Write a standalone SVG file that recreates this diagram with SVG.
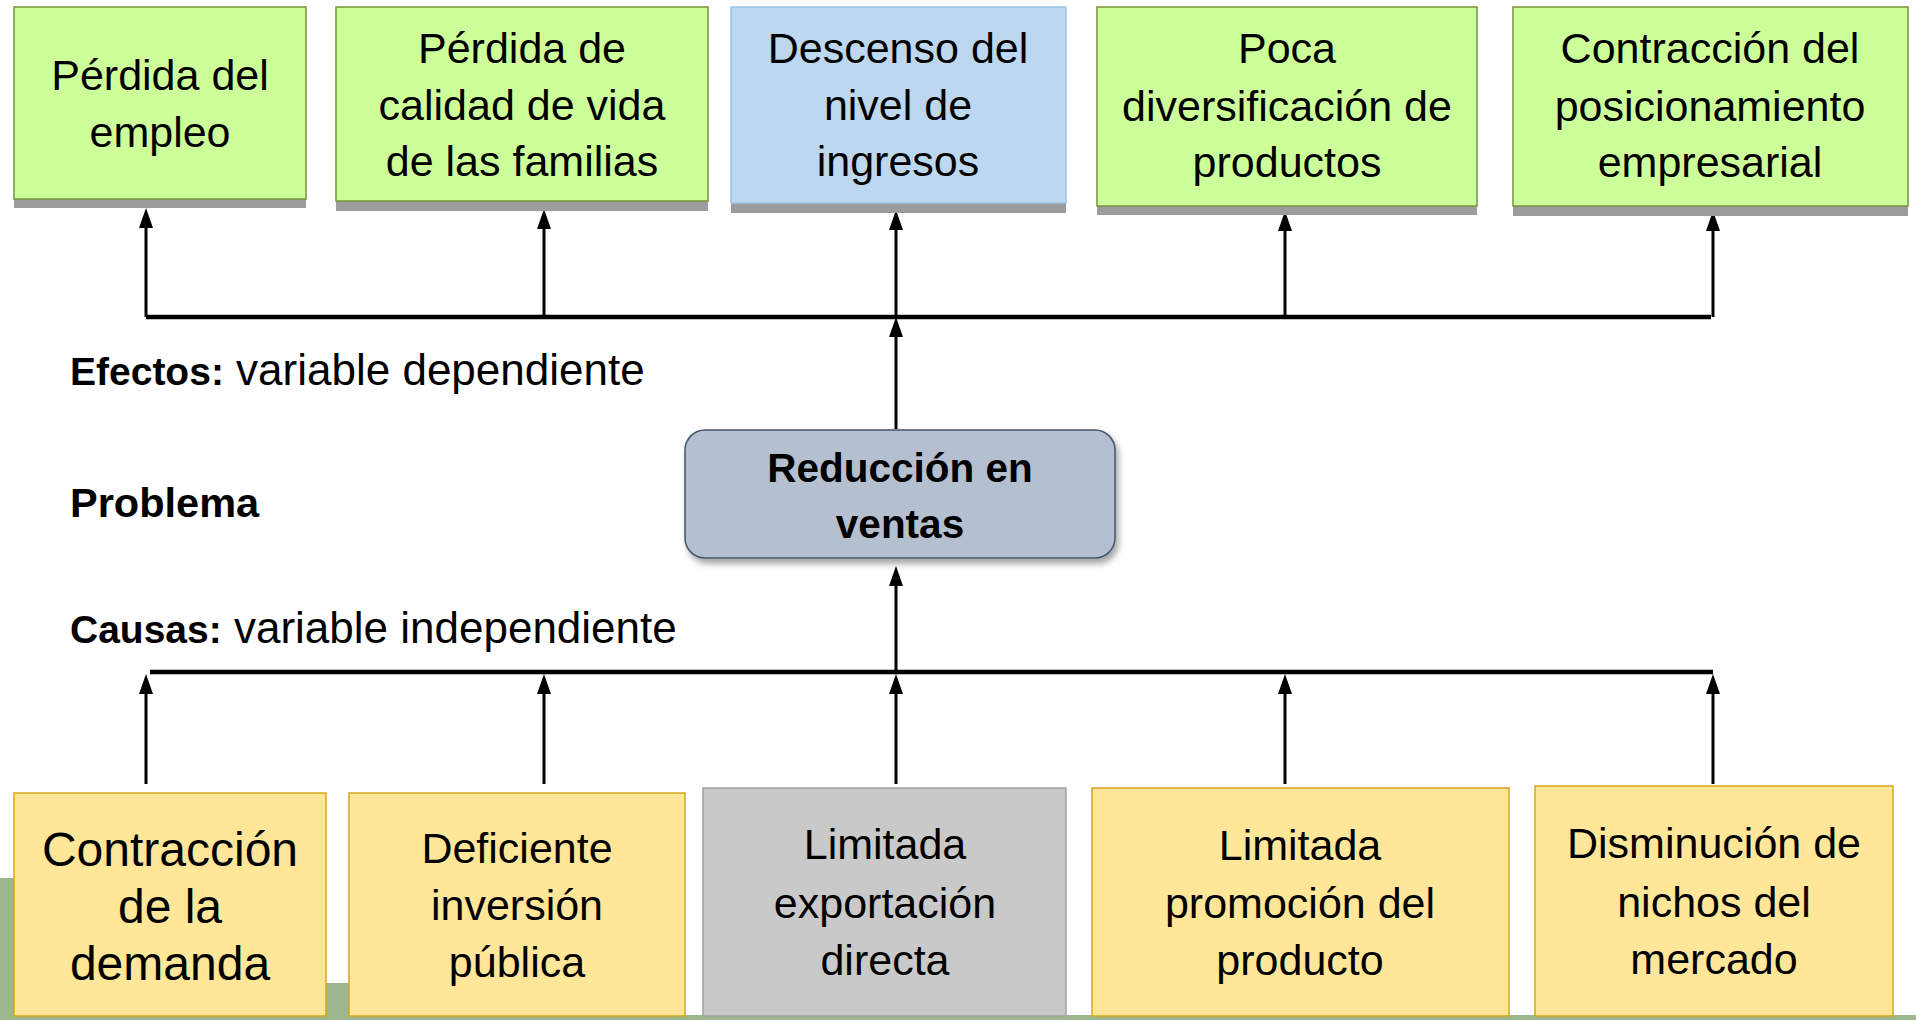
<svg xmlns="http://www.w3.org/2000/svg" width="1916" height="1020" viewBox="0 0 1916 1020">
<style>
.t{font-family:"Liberation Sans",Arial,sans-serif;font-size:43px;fill:#000;text-anchor:middle}
.lab{font-family:"Liberation Sans",Arial,sans-serif;font-size:44px;fill:#000}
.b{font-weight:bold}
.eff{fill:#CCFF99;stroke:#77933C;stroke-width:1.5}
.effb{fill:#BDD7EE;stroke:#9DC3E6;stroke-width:1.5}
.shd{fill:#9C9C9C}
.cau{fill:#FFE699;stroke:#D6A520;stroke-width:1.5}
.cag{fill:#C9C9C9;stroke:#A0A0A0;stroke-width:1.5}
.ln{stroke:#000;stroke-width:3;fill:none}
.hl{stroke:#000;stroke-width:4.5;fill:none}
.bg{fill:#9CB78C}
</style>
<defs>
<marker id="ah" markerUnits="userSpaceOnUse" markerWidth="20" markerHeight="14" viewBox="0 0 20 14" refX="12" refY="7" orient="auto">
<path d="M0,0 L20,7 L0,14 z" fill="#000"/>
</marker>
<filter id="ds" x="-10%" y="-10%" width="125%" height="140%">
<feDropShadow dx="3" dy="5" stdDeviation="3" flood-color="#000" flood-opacity="0.35"/>
</filter>
</defs>
<rect width="1916" height="1020" fill="#fff"/>
<g id="background">
<rect class="bg" x="0" y="878" width="14" height="142"/>
<rect class="bg" x="326" y="983" width="24" height="37"/>
<rect class="bg" x="0" y="1015" width="1916" height="5"/>
</g>
<g id="connectors">
<line class="hl" x1="146" y1="317" x2="1711" y2="317"/>
<line class="ln" x1="146" y1="317" x2="146" y2="216" marker-end="url(#ah)"/>
<line class="ln" x1="544" y1="317" x2="544" y2="217" marker-end="url(#ah)"/>
<line class="ln" x1="896" y1="317" x2="896" y2="218" marker-end="url(#ah)"/>
<line class="ln" x1="1285" y1="317" x2="1285" y2="219" marker-end="url(#ah)"/>
<line class="ln" x1="1713" y1="317" x2="1713" y2="219" marker-end="url(#ah)"/>
<line class="ln" x1="896" y1="429" x2="896" y2="325" marker-end="url(#ah)"/>
<line class="hl" x1="150" y1="672" x2="1713" y2="672"/>
<line class="ln" x1="896" y1="672" x2="896" y2="574" marker-end="url(#ah)"/>
<line class="ln" x1="146" y1="784" x2="146" y2="682" marker-end="url(#ah)"/>
<line class="ln" x1="544" y1="784" x2="544" y2="682" marker-end="url(#ah)"/>
<line class="ln" x1="896" y1="784" x2="896" y2="682" marker-end="url(#ah)"/>
<line class="ln" x1="1285" y1="784" x2="1285" y2="682" marker-end="url(#ah)"/>
<line class="ln" x1="1713" y1="784" x2="1713" y2="682" marker-end="url(#ah)"/>
</g>
<g id="efecto1">
<rect class="shd" x="14" y="15" width="292" height="193"/>
<rect class="eff" x="14" y="7" width="292" height="192"/>
<text class="t" x="160" y="90">Pérdida del</text>
<text class="t" x="160" y="147">empleo</text>
</g>
<g id="efecto2">
<rect class="shd" x="336" y="16" width="372" height="195"/>
<rect class="eff" x="336" y="7" width="372" height="194"/>
<text class="t" x="522" y="63">Pérdida de</text>
<text class="t" x="522" y="120">calidad de vida</text>
<text class="t" x="522" y="176">de las familias</text>
</g>
<g id="efecto3">
<rect class="shd" x="731" y="16" width="335" height="197"/>
<rect class="effb" x="731" y="7" width="335" height="196"/>
<text class="t" x="898" y="63">Descenso del</text>
<text class="t" x="898" y="120">nivel de</text>
<text class="t" x="898" y="176">ingresos</text>
</g>
<g id="efecto4">
<rect class="shd" x="1097" y="16" width="380" height="199"/>
<rect class="eff" x="1097" y="7" width="380" height="199"/>
<text class="t" x="1287" y="63">Poca</text>
<text class="t" x="1287" y="121">diversificación de</text>
<text class="t" x="1287" y="177">productos</text>
</g>
<g id="efecto5">
<rect class="shd" x="1513" y="16" width="395" height="200"/>
<rect class="eff" x="1513" y="7" width="395" height="199"/>
<text class="t" x="1710" y="63">Contracción del</text>
<text class="t" x="1710" y="121">posicionamiento</text>
<text class="t" x="1710" y="177">empresarial</text>
</g>
<g id="etiquetas">
<text class="lab" x="70" y="385"><tspan class="b" style="font-size:39px">Efectos:</tspan> variable dependiente</text>
<text class="lab b" x="70" y="517" style="font-size:41.5px">Problema</text>
<text class="lab" x="70" y="643"><tspan class="b" style="font-size:39px">Causas:</tspan> variable independiente</text>
</g>
<g id="problema">
<rect x="685" y="430" width="430" height="128" rx="20" ry="20" fill="#B4C0D0" stroke="#44546A" stroke-width="1.5" filter="url(#ds)"/>
<text class="t b" x="900" y="482" style="font-size:40.5px">Reducción en</text>
<text class="t b" x="900" y="538" style="font-size:40.5px">ventas</text>
</g>
<g id="causa1">
<rect class="cau" x="14" y="793" width="312" height="223"/>
<text class="t" x="170" y="866" style="font-size:48px">Contracción</text>
<text class="t" x="170" y="923" style="font-size:48px">de la</text>
<text class="t" x="170" y="980" style="font-size:48px">demanda</text>
</g>
<g id="causa2">
<rect class="cau" x="349" y="793" width="336" height="223"/>
<text class="t" x="517" y="863">Deficiente</text>
<text class="t" x="517" y="920">inversión</text>
<text class="t" x="517" y="977">pública</text>
</g>
<g id="causa3">
<rect class="cag" x="703" y="788" width="363" height="228"/>
<text class="t" x="885" y="859">Limitada</text>
<text class="t" x="885" y="918">exportación</text>
<text class="t" x="885" y="975">directa</text>
</g>
<g id="causa4">
<rect class="cau" x="1092" y="788" width="417" height="228"/>
<text class="t" x="1300" y="860">Limitada</text>
<text class="t" x="1300" y="918">promoción del</text>
<text class="t" x="1300" y="975">producto</text>
</g>
<g id="causa5">
<rect class="cau" x="1535" y="786" width="358" height="230"/>
<text class="t" x="1714" y="858">Disminución de</text>
<text class="t" x="1714" y="917">nichos del</text>
<text class="t" x="1714" y="974">mercado</text>
</g>
</svg>
